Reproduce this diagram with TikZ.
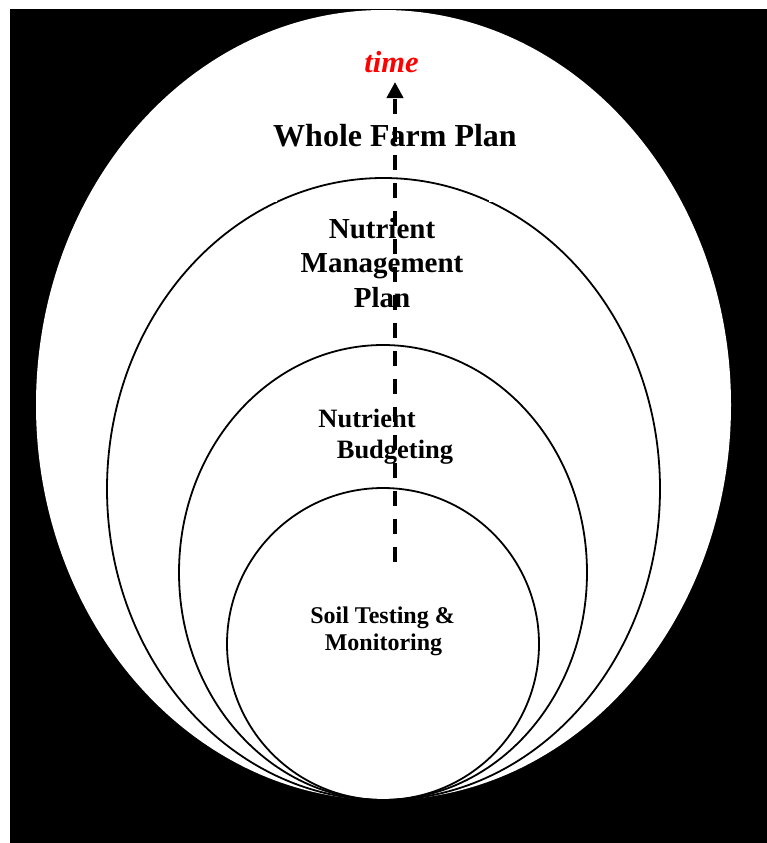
\documentclass[tikz,border=0pt]{standalone}
\usepackage{fontspec}
\setmainfont{Liberation Serif}
\usetikzlibrary{arrows.meta}
\definecolor{timered}{RGB}{255,0,0}
\tikzset{
  ring/.style={draw=black, line width=1.8pt},
  lbl/.style={anchor=base, inner sep=0pt, font=\bfseries},
  timeline/.style={line width=4pt, dash pattern=on 15pt off 13pt, -{Triangle[length=16pt,width=16pt]}}
}
\begin{document}
\begin{tikzpicture}[x=1pt,y=-1pt]
\useasboundingbox (0,0) rectangle (767,843);
\fill[black] (10,9) rectangle (767,843);
% outer ellipse
\fill[white] (383.5,405) ellipse [x radius=347.5, y radius=395];
\draw[ring] (383.5,489) ellipse [x radius=276.5, y radius=311];
\draw[ring] (383,572.5) ellipse [x radius=204, y radius=227.5];
\draw[ring] (383,644) circle [radius=156];
% small gaps on the second ring
\fill[white] (273,197.5) rectangle (277,201.5);
\fill[white] (489,197.5) rectangle (493,201.5);
% time arrow
\coordinate (tstart) at (395,562);
\coordinate (tend) at (395,82);
\draw[timeline] (tstart) -- (tend);
% labels
\node[lbl, font=\fontsize{30.5}{34}\selectfont\bfseries\itshape, text=timered] (time) at (391.5,73) {time};
\node[lbl, font=\fontsize{32}{36}\selectfont\bfseries] (wfp) at (395,146) {Whole Farm Plan};
\node[lbl, font=\fontsize{29}{33}\selectfont\bfseries] (nmp1) at (382,238) {Nutrient};
\node[lbl, font=\fontsize{29}{33}\selectfont\bfseries] (nmp2) at (382,272) {Management};
\node[lbl, font=\fontsize{29}{33}\selectfont\bfseries] (nmp3) at (382,307) {Plan};
\node[lbl, font=\fontsize{26.5}{30}\selectfont\bfseries] (nb1) at (367,427) {Nutrient};
\node[lbl, font=\fontsize{26.5}{30}\selectfont\bfseries] (nb2) at (395,458) {Budgeting};
\node[lbl, font=\fontsize{24}{27}\selectfont\bfseries] (st1) at (382.5,623) {Soil Testing \&};
\node[lbl, font=\fontsize{24}{27}\selectfont\bfseries] (st2) at (383.5,650) {Monitoring};
\end{tikzpicture}
\end{document}
